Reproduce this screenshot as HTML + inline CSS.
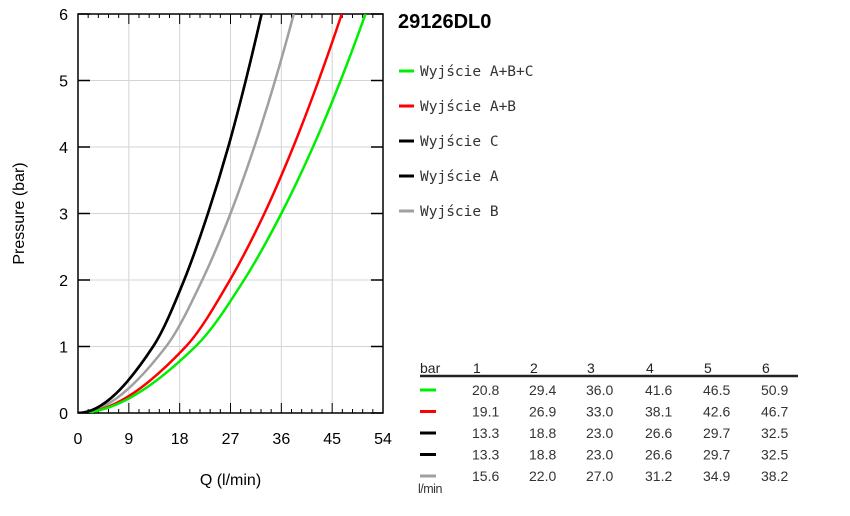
<!DOCTYPE html>
<html><head><meta charset="utf-8"><style>
body{margin:0;background:#fff;width:850px;height:511px;overflow:hidden;font-family:"Liberation Sans",sans-serif}
svg text{font-family:"Liberation Sans",sans-serif}
</style></head><body>
<svg id="chart" width="850" height="511" xmlns="http://www.w3.org/2000/svg"></svg>
<script>
const pressures=[0,1,2,3,4,5,6];
const seriesNames=["Wyjście A+B+C","Wyjście A+B","Wyjście C","Wyjście A","Wyjście B"];
const seriesColors=["#00ee00","#ff0000","#000000","#000000","#a0a0a0"];
const flowABC=[0,20.8,29.4,36.0,41.6,46.5,50.9];
const flowAB=[0,19.1,26.9,33.0,38.1,42.6,46.7];
const flowC=[0,13.3,18.8,23.0,26.6,29.7,32.5];
const flowA=[0,13.3,18.8,23.0,26.6,29.7,32.5];
const flowB=[0,15.6,22.0,27.0,31.2,34.9,38.2];
const xTicks=[0,9,18,27,36,45,54];
const yTicks=[0,1,2,3,4,5,6];
const allFlows=[flowABC,flowAB,flowC,flowA,flowB];

const NS="http://www.w3.org/2000/svg";
const svg=document.getElementById('chart');
const L=78,R=383,T=14,B=413;
const xs=v=>L+(v-0)/(54-0)*(R-L);
const ys=v=>B-(v/6)*(B-T);
function mk(tag,attrs,parent){const e=document.createElementNS(NS,tag);for(const k in attrs)e.setAttribute(k,attrs[k]);(parent||svg).appendChild(e);return e;}

// grid
xTicks.forEach(t=>{if(t>0&&t<54){const g=mk('line',{x1:xs(t),x2:xs(t),y1:T,y2:B,stroke:'#d4d4d4','stroke-width':1});

}});
yTicks.forEach(t=>{if(t>0&&t<6){const g=mk('line',{x1:L,x2:R,y1:ys(t),y2:ys(t),stroke:'#d4d4d4','stroke-width':1});

}});
// minor ticks x
for(let v=0;v<=54.01;v+=1.8){const tk=mk('line',{x1:xs(v),x2:xs(v),y1:T,y2:T+(Math.abs(v/9-Math.round(v/9))<0.01?10:4),stroke:'#000','stroke-width':1});


const tb=mk('line',{x1:xs(v),x2:xs(v),y1:B,y2:B-(Math.abs(v/9-Math.round(v/9))<0.01?10:4),stroke:'#000','stroke-width':1});

}
yTicks.forEach(t=>{
const a=mk('line',{x1:L,x2:L+12,y1:ys(t),y2:ys(t),stroke:'#000','stroke-width':1.5});


const b=mk('line',{x1:R-12,x2:R,y1:ys(t),y2:ys(t),stroke:'#000','stroke-width':1.5});


const lb=mk('text',{x:L-10,y:ys(t)+6,'text-anchor':'end','font-size':16,fill:'#000'});
lb.textContent=t;


});
xTicks.forEach(t=>{
const lb=mk('text',{x:xs(t),y:B+31,'text-anchor':'middle','font-size':16,fill:'#000'});
lb.textContent=t;


});
// frame
const fr=mk('rect',{x:L,y:T,width:R-L,height:B-T,fill:'none',stroke:'#000','stroke-width':1.5});



// curves: piecewise quadratic-like smooth via monotone cubic (pressure as function of flow)
function curve(q){
 const n=q.length, p=pressures;
 const d=[];for(let i=0;i<n-1;i++)d.push((p[i+1]-p[i])/(q[i+1]-q[i]));
 const m=[0];for(let i=1;i<n-1;i++)m.push((d[i-1]+d[i])/2);m.push(d[n-2]+(d[n-2]-d[n-3])/2);
 let s='M'+xs(q[0])+','+ys(p[0]);
 for(let i=0;i<n-1;i++){const h=q[i+1]-q[i];
  s+=' C'+xs(q[i]+h/3)+','+ys(p[i]+m[i]*h/3)+' '+xs(q[i+1]-h/3)+','+ys(p[i+1]-m[i+1]*h/3)+' '+xs(q[i+1])+','+ys(p[i+1]);}
 return s;}
const clip=mk('clipPath',{id:'pc'});mk('rect',{x:L,y:T,width:R-L,height:B-T},clip);
[4,1,0,3,2].forEach(i=>{
const c=mk('path',{d:curve(allFlows[i]),fill:'none',stroke:seriesColors[i],'stroke-width':2.5,'clip-path':'url(#pc)'});


});

// axis titles
const xt=mk('text',{x:xs(27),y:485,'text-anchor':'middle','font-size':16});xt.textContent='Q (l/min)';


const yt=mk('text',{x:0,y:0,'text-anchor':'middle','font-size':16,transform:'translate(24,'+ys(3)+') rotate(-90)'});yt.textContent='Pressure (bar)';


const ti=mk('text',{x:398,y:28,'font-size':20,'font-weight':'bold'});ti.textContent='29126DL0';



// legend
seriesNames.forEach((nm,i)=>{
const y=71+i*35;
const sw=mk('line',{x1:399,x2:414,y1:y,y2:y,stroke:seriesColors[i],'stroke-width':3});


const t=mk('text',{x:420,y:y+5,'font-size':14.5,fill:'#333','font-family':'DejaVu Sans Mono, monospace'});
t.setAttribute('style','font-family:"DejaVu Sans Mono",monospace');
t.textContent=nm;


});

// table
const colX=[420,473,530,587,646,704,762];
const hb=mk('text',{x:420,y:373,'font-size':14,fill:'#222'});hb.textContent='bar';


pressures.slice(1).forEach((p,j)=>{
const t=mk('text',{x:colX[j+1],y:373,'font-size':14,fill:'#222'});t.textContent=p;

});
const hl=mk('line',{x1:420,x2:798,y1:376,y2:376,stroke:'#222','stroke-width':2.5});


allFlows.forEach((f,i)=>{
const y=395+i*21.5;
const sw=mk('line',{x1:420,x2:436,y1:y-5,y2:y-5,stroke:seriesColors[i],'stroke-width':3});


f.slice(1).forEach((v,j)=>{
const t=mk('text',{x:colX[j+1]-1,y:y,'font-size':14,fill:'#333'});t.textContent=v.toFixed(1);

});
});
const lm=mk('text',{x:418,y:493,'font-size':12.5,fill:'#333','letter-spacing':'-0.5'});lm.textContent='l/min';


</script>
</body></html>
